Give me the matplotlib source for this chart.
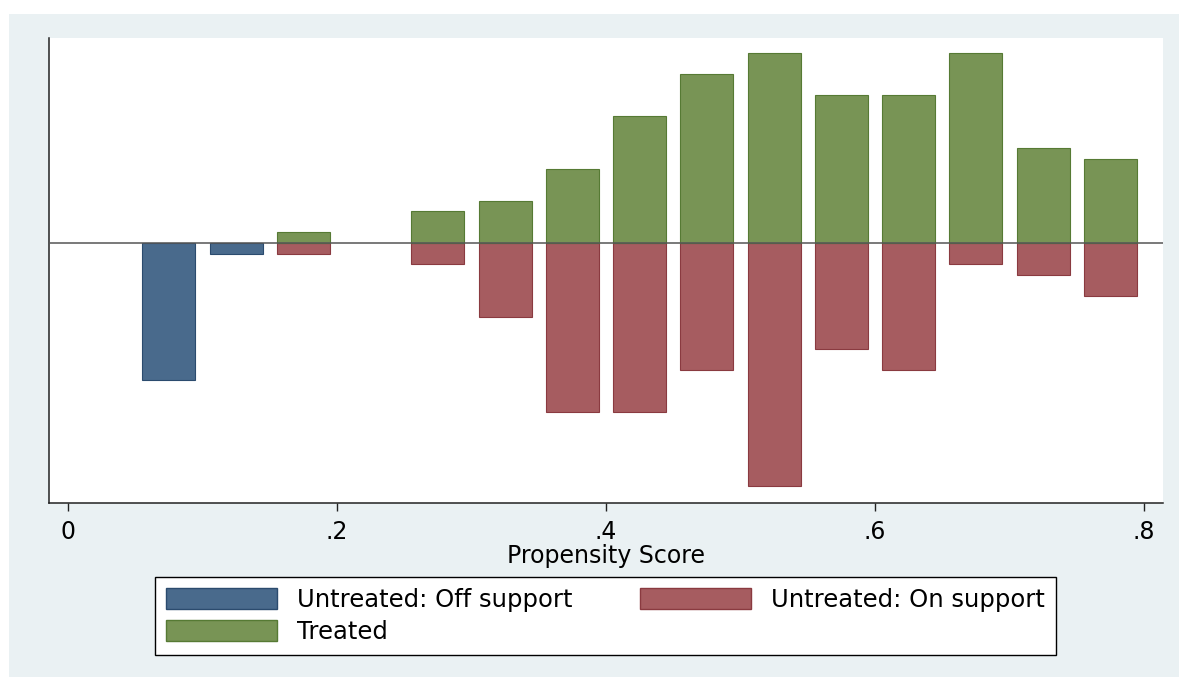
import matplotlib.pyplot as plt
from matplotlib.patches import Rectangle, Patch

plt.rcParams["font.family"] = ["DejaVu Sans"]

# Bin centres of the propensity score histogram
bin_centers = [0.075, 0.125, 0.175, 0.225, 0.275, 0.325, 0.375, 0.425,
               0.475, 0.525, 0.575, 0.625, 0.675, 0.725, 0.775]
treated = [0, 0, 1, 0, 3, 4, 7, 12, 16, 18, 14, 14, 18, 9, 8]
untreated_off = [13, 1, 0, 0, 0, 0, 0, 0, 0, 0, 0, 0, 0, 0, 0]
untreated_on = [0, 0, 1, 0, 2, 7, 16, 16, 12, 23, 10, 12, 2, 3, 5]
xtick_vals = [0, 0.2, 0.4, 0.6, 0.8]
xtick_labels = ["0", ".2", ".4", ".6", ".8"]

blue, blue_edge = "#496a8c", "#2b4b6e"
red, red_edge = "#a65c60", "#8a3a40"
green, green_edge = "#789455", "#567a34"
bg = "#eaf1f3"
fs = 17


def nonzero(xs, counts, sign=1):
    # skip empty bins so no edge line is drawn for them
    pairs = [(x, sign * c) for x, c in zip(xs, counts) if c != 0]
    return [p[0] for p in pairs], [p[1] for p in pairs]


fig = plt.figure(figsize=(11.79, 6.77), dpi=100, facecolor="white")
fig.patches.append(Rectangle((9 / 1179, 0), 1 - 9 / 1179, 1 - 14 / 677,
                             transform=fig.transFigure, facecolor=bg,
                             edgecolor="none", zorder=-10))

ax = fig.add_axes([49 / 1179, 1 - 503 / 677, 1114 / 1179, 465 / 677])
ax.set_facecolor("white")

w = 0.0395
ax.bar(*nonzero(bin_centers, untreated_off, -1), width=w, color=blue,
       edgecolor=blue_edge, linewidth=0.8)
ax.bar(*nonzero(bin_centers, untreated_on, -1), width=w, color=red,
       edgecolor=red_edge, linewidth=0.8)
ax.bar(*nonzero(bin_centers, treated), width=w, color=green,
       edgecolor=green_edge, linewidth=0.8)
ax.axhline(0, color="#555555", linewidth=1.1, zorder=3)

ax.set_xlim(-0.01413, 0.81413)
ax.set_ylim(-24.64, 19.43)
ax.set_xticks(xtick_vals)
ax.set_xticklabels(xtick_labels, fontsize=fs)
ax.set_yticks([])
ax.tick_params(axis="x", length=6, width=1, pad=6, color="#222222")
ax.set_xlabel("Propensity Score", fontsize=fs, labelpad=0)

for s in ["top", "right"]:
    ax.spines[s].set_visible(False)
for s in ["left", "bottom"]:
    ax.spines[s].set_color("#222222")
    ax.spines[s].set_linewidth(1.1)

handles = [Patch(facecolor=blue, edgecolor=blue_edge, label="Untreated: Off support"),
           Patch(facecolor=green, edgecolor=green_edge, label="Treated"),
           Patch(facecolor=red, edgecolor=red_edge, label="Untreated: On support")]
leg = fig.legend(handles=handles, ncol=2, loc="center",
                 bbox_to_anchor=(605.5 / 1179, 1 - 616 / 677),
                 fontsize=17.5, frameon=True, fancybox=False, framealpha=1,
                 handlelength=4.57, handleheight=0.95, handletextpad=0.82,
                 columnspacing=2.8, labelspacing=0.33, borderpad=0.45,
                 borderaxespad=0)
leg.get_frame().set_edgecolor("black")
leg.get_frame().set_linewidth(1.0)

fig.savefig("out.png", dpi=100, facecolor=fig.get_facecolor())
